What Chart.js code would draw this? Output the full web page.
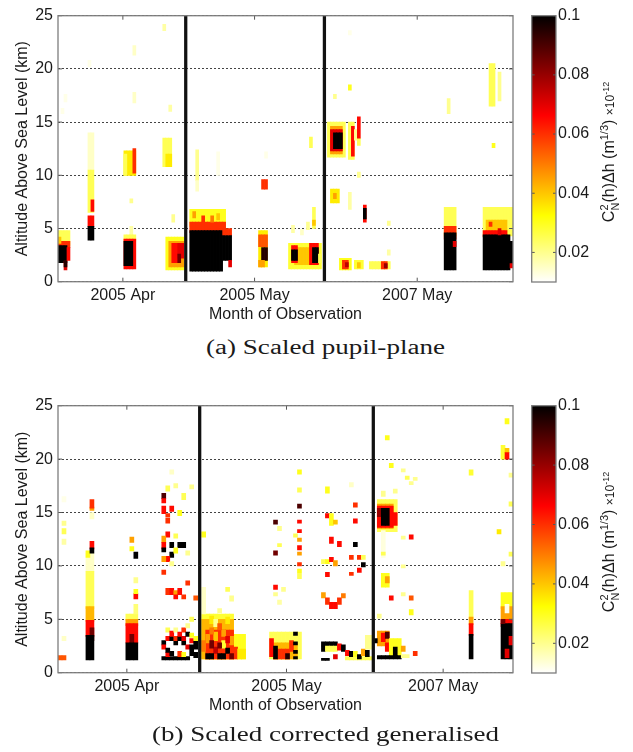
<!DOCTYPE html>
<html><head><meta charset="utf-8">
<script src="https://cdn.jsdelivr.net/npm/chart.js@4.4.1/dist/chart.umd.min.js"></script>
<style>
html,body{margin:0;padding:0;background:#fff;}
#wrap{position:relative;width:633px;height:752px;overflow:hidden;font-family:"Liberation Sans",Arial,sans-serif;}
canvas{position:absolute;}
.cbl{position:absolute;white-space:nowrap;font-size:16px;color:#1a1a1a;transform:translate(-50%,-50%) rotate(-90deg);line-height:20px;}
.cbl sup,.cbl sub{font-size:11px;}
.cbl .sm{font-size:12px;}
.cbl .sm sup{font-size:9px;}
.cap{position:absolute;white-space:nowrap;font-family:"Liberation Serif","Times New Roman",serif;font-size:20px;line-height:20px;color:#1a1a1a;transform-origin:0 0;}
</style></head>
<body><div id="wrap">
<canvas id="mainA" width="520" height="335" style="left:0;top:0;width:520px;height:335px"></canvas>
<canvas id="cbA" width="113" height="300" style="left:520px;top:0;width:113px;height:300px"></canvas>
<canvas id="mainB" width="520" height="335" style="left:0;top:390px;width:520px;height:335px"></canvas>
<canvas id="cbB" width="113" height="300" style="left:520px;top:390px;width:113px;height:300px"></canvas>
<div class="cbl" style="left:609px;top:152px">C<sup>2</sup><sub style="margin-left:-6px">N</sub>(h)Δh (m<sup>1/3</sup>) <span class="sm">×10<sup>-12</sup></span></div>
<div class="cbl" style="left:609px;top:542px">C<sup>2</sup><sub style="margin-left:-6px">N</sub>(h)Δh (m<sup>1/3</sup>) <span class="sm">×10<sup>-12</sup></span></div>
<div class="cap" id="capA" style="left:325px;top:337px">(a) Scaled pupil-plane</div>
<div class="cap" id="capB" style="left:325px;top:724px">(b) Scaled corrected generalised</div>
</div>
<script>
// ---------------- data ----------------
const ALT_MIN = 0, ALT_MAX = 25;
const altTicks = [0, 5, 10, 15, 20, 25];
const CB_MIN = 0.01, CB_MAX = 0.1;
const cbTicks = [0.02, 0.04, 0.06, 0.08, 0.1];
const cbTickLabels = ['0.02', '0.04', '0.06', '0.08', '0.1'];
const monthLabels = ['2005 Apr', '2005 May', '2007 May'];

// panel (a): time bins (columns) and month tick / separator positions
const colsA = 152;
const monthTicksA = [21.67, 65.67, 120];
const sepsA = [42.67, 89];
// cells: [firstCol, endCol, altLow km, altHigh km, Cn2dh value]
const a_apr2005 = [
 [0,4,3.4,4.8,0.025],[0,4,3.2,3.8,0.06],[0,3,1.8,3.4,0.1],[2,3,1.1,1.9,0.07],[2,3,1.4,2.0,0.095],
 [3,4,2.0,3.2,0.065],[0,1,3.6,4.2,0.04],
 [2,3,16.9,17.6,0.012],[1,2,15.8,16.3,0.012],[10,11,20.2,20.8,0.012],
 [10,12,10.5,14.0,0.015],[10,12,6.5,10.5,0.025],[11,12,6.6,7.7,0.065],[10,12,5.2,6.2,0.065],[10,12,3.9,5.2,0.1],
 [22,26,10.0,12.3,0.035],[22,23,10.0,12.0,0.025],[25,26,10.2,12.5,0.06],[24,25,7.4,7.8,0.02],[24,25,4.4,5.2,0.018],
 [22,26,3.8,4.4,0.025],[22,26,1.2,4.0,0.065],[22,25,1.5,3.8,0.1],[25,26,21.3,22.2,0.015],[25,26,16.8,17.8,0.015],
 [35,36,23.6,24.2,0.018],[37,38,16.0,16.6,0.018],[35,38,10.8,13.5,0.025],[36,38,10.8,12.0,0.035],[38,39,5.6,6.3,0.02],
 [36,42,1.1,4.2,0.03],[37,42,1.4,3.8,0.045],[38,40,1.8,3.6,0.065],[40,42,2.2,3.6,0.07],[40,41,1.8,2.6,0.085]
];
const a_may2005 = [
 [44,56,5.2,6.8,0.03],[44,56,4.6,5.6,0.06],[45,46,6.0,6.6,0.045],[48,49,5.6,6.2,0.06],[51,52,5.6,6.2,0.05],
 [53,54,5.8,6.4,0.04],[44,55,1.0,4.8,0.1],[55,58,2.0,4.4,0.1],[55,58,4.4,5.0,0.06],[57,58,1.4,2.0,0.07],
 [46,47,9.5,12.4,0.02],[46,47,8.5,9.5,0.015],[53,54,10.0,12.2,0.012],[68,70,8.7,9.6,0.06],[69,70,11.6,12.2,0.012],
 [67,70,1.4,4.8,0.035],[67,70,3.3,4.4,0.055],[68,70,2.0,3.2,0.095],[67,69,1.4,2.0,0.045],
 [77,88,1.2,3.6,0.028],[79,84,1.6,3.2,0.04],[78,80,1.8,3.4,0.065],[78,80,2.0,3.0,0.1],[84,87,1.6,3.6,0.065],
 [85,87,1.8,3.2,0.1],[87,88,1.8,2.6,0.025],[78,79,4.6,5.3,0.018],[81,82,4.4,4.9,0.015],[83,84,4.9,5.6,0.02],
 [85,86,5.0,7.0,0.025],[85,86,5.3,5.8,0.04],[84,85,12.6,13.6,0.025]
];
const a_may2007 = [
 [90,96,11.7,15.0,0.025],[91,95,12.0,14.6,0.045],[91,95,12.3,14.3,0.07],[92,95,12.5,14.0,0.1],
 [97,99,11.5,15.0,0.025],[98,99,11.8,14.6,0.065],[99,100,13.3,14.3,0.02],[100,101,12.8,13.5,0.025],[100,101,13.5,15.5,0.065],
 [92,93,17.2,17.6,0.02],[97,98,18.0,18.5,0.03],[97,98,23.2,23.6,0.012],[100,101,9.8,10.3,0.02],
 [91,94,7.4,8.7,0.035],[92,93,7.8,8.3,0.045],[97,98,6.8,8.4,0.018],[102,103,5.6,7.2,0.065],[102,103,5.9,6.9,0.1],
 [110,111,5.3,5.7,0.02],[94,98,1.1,2.2,0.03],[95,97,1.2,2.0,0.06],[96,97,1.4,1.8,0.075],[99,102,1.2,2.0,0.028],
 [100,101,1.3,1.8,0.04],[104,111,1.2,1.9,0.025],[108,110,1.2,1.9,0.06],[109,110,1.3,1.7,0.08],[110,111,2.5,3.0,0.018],
 [130,131,15.8,17.2,0.02],[129,133,4.3,7.0,0.025],[129,133,4.0,5.2,0.06],[129,133,1.1,4.6,0.1],[132,133,3.3,3.8,0.07],
 [144,146,16.5,20.5,0.025],[147,148,17.0,19.7,0.02],[145,146,12.6,13.0,0.03],
 [142,152,4.3,7.0,0.025],[143,150,4.4,5.8,0.04],[144,145,5.2,5.6,0.06],[142,150,4.2,4.8,0.065],[142,151,1.1,4.4,0.1],
 [147,148,4.4,5.0,0.07],[150,152,1.6,3.8,0.1],[151,152,1.3,1.7,0.07]
];

// panel (b)
const colsB = 114;
const monthTicksB = [17.25, 57.25, 96.5];
const sepsB = [35.5, 79];
const b_apr2005 = [
 [0,2,1.2,1.6,0.055],[1,2,16.0,16.5,0.012],[1,2,13.8,14.2,0.02],[1,2,13.0,13.5,0.025],[1,2,12.0,12.5,0.018],[1,2,3.0,3.4,0.015],
 [7,9,9.5,11.2,0.015],[7,9,6.0,9.5,0.025],[7,9,4.8,6.2,0.042],[7,9,3.4,4.9,0.065],[8,9,3.0,4.2,0.085],[7,9,1.2,3.5,0.1],
 [7,8,10.8,11.4,0.03],[8,9,11.6,12.3,0.065],[8,9,11.2,11.7,0.1],[8,9,14.4,15.0,0.015],[8,9,15.2,15.5,0.045],[8,9,15.4,16.2,0.06],
 [17,20,4.9,5.5,0.025],[17,20,4.4,5.0,0.045],[17,20,2.8,4.6,0.065],[18,19,2.4,3.6,0.085],[17,20,1.2,2.8,0.1],
 [19,20,5.5,6.4,0.022],[19,20,6.9,7.4,0.065],[19,20,7.4,7.8,0.03],[19,20,8.4,8.9,0.02],[19,20,10.7,11.3,0.1],
 [18,19,11.4,11.8,0.03],[18,19,12.2,12.7,0.045],
 [26,33,1.2,1.5,0.1],[26,27,2.6,3.0,0.1],[26,27,2.2,2.6,0.065],[27,28,3.0,3.4,0.065],[27,28,1.5,1.9,0.065],
 [27,28,1.9,2.3,0.1],[27,28,3.8,4.2,0.025],[28,29,3.0,3.4,0.1],[28,29,3.4,3.9,0.065],[28,29,1.6,2.0,0.1],
 [29,30,2.6,3.0,0.1],[29,30,3.0,3.4,0.06],[29,30,3.8,4.2,0.02],[30,31,3.0,3.4,0.1],[30,31,3.4,3.8,0.065],
 [30,31,1.5,2.0,0.06],[31,32,2.6,3.0,0.1],[31,32,3.0,3.4,0.07],[31,32,3.8,4.2,0.06],[31,32,1.5,1.9,0.03],
 [32,33,3.4,3.8,0.1],[32,33,2.2,2.6,0.07],[32,33,4.2,4.6,0.02],[33,34,1.6,2.6,0.1],[33,34,2.8,3.2,0.065],
 [33,34,3.3,3.7,0.03],[34,35,2.2,3.0,0.1],[34,35,3.0,3.4,0.03],[34,35,1.4,1.9,0.1],[33,34,4.8,5.2,0.025],
 [26,27,16.3,16.8,0.09],[26,27,15.9,16.3,0.065],[27,28,17.0,17.5,0.025],[26,27,14.9,15.6,0.065],[28,29,15.1,15.6,0.065],
 [27,28,14.6,14.9,0.06],[30,31,14.7,15.2,0.03],[31,32,16.2,16.8,0.025],[27,28,14.0,14.5,0.06],[27,28,12.7,13.2,0.065],
 [26,27,12.2,12.8,0.045],[26,27,11.6,12.2,0.065],[26,27,11.3,11.7,0.1],[28,29,11.7,12.2,0.1],[30,32,11.7,12.2,0.1],
 [28,29,10.8,11.3,0.1],[29,30,11.2,11.7,0.03],[27,28,10.4,10.9,0.065],[26,27,10.4,10.9,0.045],[26,27,9.2,9.6,0.06],
 [28,29,10.0,10.4,0.02],[27,28,7.3,7.9,0.06],[28,29,7.3,7.9,0.065],[29,30,7.3,7.7,0.045],[30,31,7.3,7.9,0.065],
 [29,30,6.9,7.3,0.065],[31,32,6.9,7.3,0.06],[32,33,8.2,8.6,0.06],[34,35,6.8,7.2,0.055],[28,29,18.6,19.0,0.015],
 [29,30,17.3,17.7,0.02],[33,34,17.2,17.6,0.02],[29,30,12.6,13.0,0.025],[32,33,11.0,11.4,0.02]
];
const b_may2005 = [
 [36,44,3.6,5.5,0.028],[36,47,1.3,3.6,0.03],[36,44,1.3,5.0,0.042],[37,44,1.3,4.0,0.06],[44,45,1.3,2.4,0.06],
 [45,47,1.3,2.2,0.035],[38,39,4.6,5.3,0.035],[42,43,4.6,5.2,0.035],[39,40,4.3,5.0,0.02],[41,42,2.3,3.0,0.028],
 [37,38,2.8,3.6,0.045],[39,40,3.0,3.8,0.04],[41,42,3.4,4.0,0.045],[43,44,2.6,3.4,0.045],[38,39,3.6,4.2,0.05],
 [40,41,4.0,4.6,0.055],[36,37,2.0,3.0,0.05],[42,43,2.8,3.4,0.07],[39,40,1.8,2.4,0.075],
 [37,39,1.3,1.8,0.1],[40,42,1.3,1.8,0.1],[42,43,1.8,2.3,0.1],[38,39,2.3,3.0,0.085],[40,41,2.3,2.8,0.085],
 [43,44,1.3,1.8,0.085],[36,37,5.5,8.0,0.015],[36,37,12.7,13.2,0.03],[42,43,7.6,8.0,0.025],[43,44,6.7,7.2,0.02],
 [40,41,5.6,6.0,0.02],
 [53,61,1.3,3.8,0.025],[54,60,1.3,2.8,0.042],[54,58,1.3,2.2,0.06],[53,54,1.5,3.2,0.065],[54,55,1.3,2.5,0.1],
 [57,58,1.3,1.8,0.095],[58,59,2.0,3.0,0.06],[59,60,3.5,3.8,0.1],[59,60,2.6,2.9,0.1],[59,60,1.8,2.1,0.1],[59,60,1.3,1.5,0.1],
 [54,55,13.9,14.3,0.09],[55,56,13.3,13.7,0.02],[54,55,11.0,11.4,0.085],[55,56,11.8,12.1,0.025],[54,55,7.8,8.2,0.065],
 [54,55,7.2,7.5,0.02],[55,56,6.4,6.8,0.018],[56,57,7.6,8.0,0.02],
 [60,61,18.6,19.0,0.03],[60,61,16.9,17.3,0.025],[60,61,15.4,15.8,0.09],[60,61,14.0,14.3,0.065],[60,61,13.1,13.4,0.065],
 [59,60,12.7,13.0,0.025],[60,61,12.3,12.6,0.045],[60,61,11.5,11.9,0.065],[60,61,11.0,11.3,0.045],[60,61,10.0,10.3,0.06],
 [60,61,9.3,9.7,0.03],[60,61,8.8,9.2,0.025],
 [67,68,16.8,17.4,0.03],[73,74,17.4,17.8,0.015],[67,68,14.5,14.9,0.065],[68,69,13.8,14.9,0.03],[69,70,13.9,14.3,0.04],
 [68,69,12.1,12.7,0.065],[70,71,11.8,12.3,0.065],[66,67,10.2,10.6,0.025],[67,68,10.2,10.6,0.03],[68,69,10.4,10.8,0.065],
 [69,70,10.0,10.5,0.045],[67,68,9.0,9.4,0.065],[66,67,7.0,7.5,0.045],[67,68,6.4,7.0,0.06],[68,69,6.0,6.6,0.065],
 [69,70,6.0,6.6,0.065],[70,71,6.4,7.0,0.06],[71,72,7.0,7.4,0.05],[74,75,15.5,15.9,0.06],[74,75,14.0,14.4,0.065],
 [74,75,11.8,12.2,0.1],[73,74,10.6,11.0,0.06],[75,76,10.6,11.0,0.06],[76,77,9.9,10.3,0.1],[75,76,9.4,9.8,0.065],
 [76,77,10.6,11.0,0.025],[73,74,9.1,9.4,0.06],
 [66,70,2.5,2.9,0.1],[66,67,2.0,2.5,0.1],[67,70,2.0,2.5,0.025],[70,71,2.1,2.7,0.065],[71,72,2.0,2.6,0.1],
 [72,79,1.2,1.5,0.025],[72,73,1.6,2.1,0.065],[73,74,1.5,2.0,0.1],[74,75,1.5,2.0,0.03],[75,76,1.3,1.7,0.1],
 [76,77,1.6,2.2,0.045],[77,78,1.5,2.1,0.1],[77,79,2.2,3.5,0.02],[66,68,1.15,1.35,0.1],[69,70,1.3,1.7,0.07]
];
const b_may2007 = [
 [80,85,13.2,16.2,0.025],[80,84,13.5,15.8,0.045],[80,84,13.6,15.6,0.065],[80,81,14.6,15.4,0.08],[81,83,13.8,15.4,0.1],
 [84,85,13.8,15.0,0.065],[81,82,10.8,13.3,0.013],[81,82,16.5,17.0,0.02],[84,85,16.8,17.2,0.02],[83,84,19.2,19.6,0.03],
 [82,83,21.8,22.2,0.03],[86,87,18.8,19.1,0.02],[87,88,18.1,18.4,0.025],[88,89,17.6,17.9,0.02],[89,90,18.0,18.3,0.02],
 [88,89,12.5,12.9,0.065],[86,87,12.5,12.8,0.02],[81,82,11.0,11.3,0.025],[86,87,9.8,10.1,0.02],[81,83,8.0,9.3,0.03],
 [82,83,8.4,9.0,0.045],[83,84,6.8,7.2,0.065],[86,87,7.2,7.5,0.02],[88,89,6.8,7.2,0.055],[88,89,5.4,5.9,0.03],
 [80,81,5.1,5.5,0.02],
 [80,83,2.5,3.9,0.045],[81,82,2.9,3.7,0.065],[82,83,3.2,3.8,0.09],[82,83,2.0,2.8,0.065],[79,80,2.8,3.2,0.1],
 [83,86,1.6,3.2,0.03],[84,85,1.6,2.4,0.1],[80,86,1.3,1.6,0.1],[86,87,2.0,2.5,0.045],[86,88,1.4,1.7,0.02],[89,90,1.6,2.0,0.06],
 [103,104,18.5,19.0,0.028],[103,104,5.0,7.7,0.025],[103,104,4.5,5.2,0.045],[103,104,3.5,4.6,0.065],[103,104,1.3,3.6,0.1],
 [111,114,6.0,7.5,0.03],[111,114,5.0,6.2,0.045],[112,113,5.6,6.4,0.012],[111,114,4.3,5.0,0.065],[111,114,1.3,4.6,0.1],
 [111,112,4.6,5.0,0.085],[112,113,1.4,2.2,0.07],[113,114,2.6,3.4,0.07],[110,111,13.0,13.4,0.035],[113,114,15.6,16.0,0.025],
 [113,114,10.9,11.3,0.025],[111,112,10.0,10.4,0.02],[112,113,23.3,23.8,0.03],[111,112,20.0,21.3,0.028],
 [112,113,20.6,21.0,0.04],[112,113,20.0,20.6,0.065],[113,114,18.3,18.7,0.02]
];

// ---------------- rendering ----------------
const FONT = '"Liberation Sans", Arial, sans-serif';
const TXT = '#1a1a1a';
Chart.defaults.font.family = FONT;
Chart.defaults.font.size = 16;
Chart.defaults.color = TXT;

function cmap(v) { // reversed "hot" colormap
  let t = (v - CB_MIN) / (CB_MAX - CB_MIN); t = Math.max(0, Math.min(1, t));
  const s = 1 - t;
  const r = Math.min(1, s / 0.375), g = Math.max(0, Math.min(1, (s - 0.375) / 0.375)), b = Math.max(0, Math.min(1, (s - 0.75) / 0.25));
  return 'rgb(' + Math.round(r * 255) + ',' + Math.round(g * 255) + ',' + Math.round(b * 255) + ')';
}

const boxPlugin = {
  id: 'box',
  afterDatasetsDraw(chart, args, opts) {
    const {ctx, chartArea: a} = chart;
    ctx.save();
    const line = (x1, y1, x2, y2) => { ctx.beginPath(); ctx.moveTo(x1, y1); ctx.lineTo(x2, y2); ctx.stroke(); };
    ctx.strokeStyle = '#555'; ctx.lineWidth = 1;
    const L = opts.tick || 4;
    if (opts.xTicks) {
      const xs = chart.scales.x;
      xs.ticks.forEach(t => { const px = xs.getPixelForValue(t.value); line(px, a.bottom, px, a.bottom - L); line(px, a.top, px, a.top + L); });
    }
    const ys = chart.scales.y;
    ys.ticks.forEach(t => { const py = ys.getPixelForValue(t.value); line(a.left, py, a.left + L, py); line(a.right, py, a.right - L, py); });
    ctx.strokeStyle = '#7d7d7d'; ctx.lineWidth = 1.3;
    ctx.strokeRect(a.left, a.top, a.right - a.left, a.bottom - a.top);
    ctx.restore();
  }
};

function makeMain(id, cells, nCols, seps, tickPos, bottomPad) {
  const pts = [];
  cells.forEach(([c0, c1, lo, hi, v]) => { for (let c = c0; c < c1; c++) pts.push({x: c + 0.5, y: [lo, hi], v}); });
  new Chart(document.getElementById(id), {
    type: 'bar',
    data: {datasets: [
      {data: seps.map(s => ({x: s, y: [ALT_MIN, ALT_MAX]})), xAxisID: 'xs', backgroundColor: '#111', barThickness: 2.6, order: 0, grouped: false},
      {data: pts, xAxisID: 'x', backgroundColor: c => cmap(c.raw.v), barPercentage: 1, categoryPercentage: 1, order: 1, grouped: false}
    ]},
    options: {
      responsive: false, animation: false, devicePixelRatio: 1, events: [],
      layout: {padding: {left: 0, right: 7, top: 15.7, bottom: bottomPad}},
      plugins: {legend: {display: false}, tooltip: {enabled: false}, box: {xTicks: true, tick: 4}},
      scales: {
        x: {type: 'linear', min: 0, max: nCols, offset: false, grid: {display: false, drawTicks: false}, border: {display: false},
          afterBuildTicks: s => { s.ticks = tickPos.map(v => ({value: v})); },
          ticks: {autoSkip: false, maxRotation: 0, padding: 4, font: {size: 16, lineHeight: 1.2}, callback: (v, i) => monthLabels[i]},
          title: {display: true, text: 'Month of Observation', font: {size: 16, lineHeight: 1.2}, padding: {top: 0, bottom: 3}},
          afterFit: s => { s.height = 45; }},
        xs: {type: 'linear', min: 0, max: nCols, offset: false, display: false},
        y: {min: ALT_MIN, max: ALT_MAX,
          afterBuildTicks: s => { s.ticks = altTicks.map(v => ({value: v})); },
          grid: {color: '#444', lineWidth: 1, drawTicks: false}, border: {display: false, dash: [2, 2]},
          ticks: {padding: 5, font: {size: 16, lineHeight: 1.2}},
          title: {display: true, text: 'Altitude Above Sea Level (km)', font: {size: 16, lineHeight: 1.2}, padding: {top: 13.4, bottom: 0}},
          afterFit: s => { s.width = 58; }}
      }
    },
    plugins: [boxPlugin]
  });
}

function makeCB(id, bottomPad) {
  new Chart(document.getElementById(id), {
    type: 'bar',
    data: {labels: [''], datasets: [{data: [[CB_MIN, CB_MAX]], barPercentage: 1, categoryPercentage: 1, inflateAmount: 0,
      backgroundColor: c => {
        const ch = c.chart; if (!ch.chartArea) return '#fff';
        const ys = ch.scales.y;
        const g = ch.ctx.createLinearGradient(0, ys.getPixelForValue(CB_MIN), 0, ys.getPixelForValue(CB_MAX));
        for (let i = 0; i <= 40; i++) { const t = i / 40; g.addColorStop(t, cmap(CB_MIN + t * (CB_MAX - CB_MIN))); }
        return g;
      }}]},
    options: {
      responsive: false, animation: false, devicePixelRatio: 1, events: [],
      layout: {padding: {left: 11.7, right: 0, top: 15.7, bottom: bottomPad}},
      plugins: {legend: {display: false}, tooltip: {enabled: false}, box: {xTicks: false, tick: 3}},
      scales: {
        x: {display: false, offset: true},
        y: {position: 'right', min: CB_MIN, max: CB_MAX, grid: {display: false, drawTicks: false}, border: {display: false},
          afterBuildTicks: s => { s.ticks = cbTicks.map(v => ({value: v})); },
          ticks: {padding: 2, font: {size: 16, lineHeight: 1.2}, callback: (v, i) => cbTickLabels[i]},
          afterFit: s => { s.width = 77; }}
      }
    },
    plugins: [boxPlugin]
  });
}

makeMain('mainA', [...a_apr2005, ...a_may2005, ...a_may2007], colsA, sepsA, monthTicksA, 8.3);
makeMain('mainB', [...b_apr2005, ...b_may2005, ...b_may2007], colsB, sepsB, monthTicksB, 7.3);
makeCB('cbA', 18);
makeCB('cbB', 17);

function fitCap(id, target, center) {
  const el = document.getElementById(id);
  const w = el.getBoundingClientRect().width;
  const k = target / w;
  el.style.left = (center - target / 2) + 'px';
  el.style.transform = 'scaleX(' + k + ')';
}
fitCap('capA', 239, 325);
fitCap('capB', 347, 325);
</script>
</body></html>
